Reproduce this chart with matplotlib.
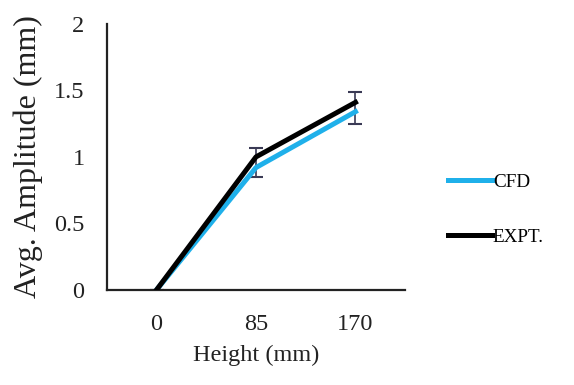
import matplotlib
matplotlib.use("Agg")
import matplotlib.pyplot as plt

categories = ["0", "85", "170"]
cfd = [0.0, 0.92, 1.34]
expt = [0.0, 1.0, 1.41]
expt_err_low = [0.0, 0.15, 0.16]
expt_err_high = [0.0, 0.07, 0.08]
yticks = [0, 0.5, 1, 1.5, 2]
ytick_labels = ["0", "0.5", "1", "1.5", "2"]

plt.rcParams['font.family'] = ['Liberation Serif', 'DejaVu Serif']

fig = plt.figure(figsize=(5.74, 3.85), dpi=100)
ax = fig.add_axes([0.186, 0.247, 0.52, 0.691])

x = list(range(len(categories)))
ax.errorbar(x, expt, yerr=[expt_err_low, expt_err_high], fmt='none',
            ecolor='#3a3a55', elinewidth=1.2, capsize=5, capthick=1.5, zorder=1)
l1, = ax.plot(x, cfd, color='#1fb0ea', lw=3.6, label='CFD', zorder=2)
l2, = ax.plot(x, expt, color='black', lw=3.6, label='EXPT.', zorder=3)

ax.set_xlim(-0.5, 2.5)
ax.set_ylim(0, 2)
ax.set_xticks(x)
ax.set_xticklabels(categories)
ax.set_yticks(yticks)
ax.set_yticklabels(ytick_labels)
ax.tick_params(length=0, labelsize=17.5, colors='#222222')
ax.tick_params(axis='x', pad=17)
ax.tick_params(axis='y', pad=16)
for s in ['top', 'right']:
    ax.spines[s].set_visible(False)
for s in ['left', 'bottom']:
    ax.spines[s].set_linewidth(1.6)
    ax.spines[s].set_color('#222222')

ax.set_xlabel('Height (mm)', fontsize=17.5, color='#222222')
ax.set_ylabel('Avg. Amplitude (mm)', fontsize=23, color='#222222')
ax.xaxis.set_label_coords(0.5, -0.205)
ax.yaxis.set_label_coords(-0.215, 0.5)

fig.legend(handles=[l1, l2], loc='center left', bbox_to_anchor=(0.767, 0.455),
           frameon=False, fontsize=13.8, handlelength=2.3, handletextpad=0.05,
           labelspacing=1.95, borderaxespad=0)

fig.savefig('out.png', dpi=100)
